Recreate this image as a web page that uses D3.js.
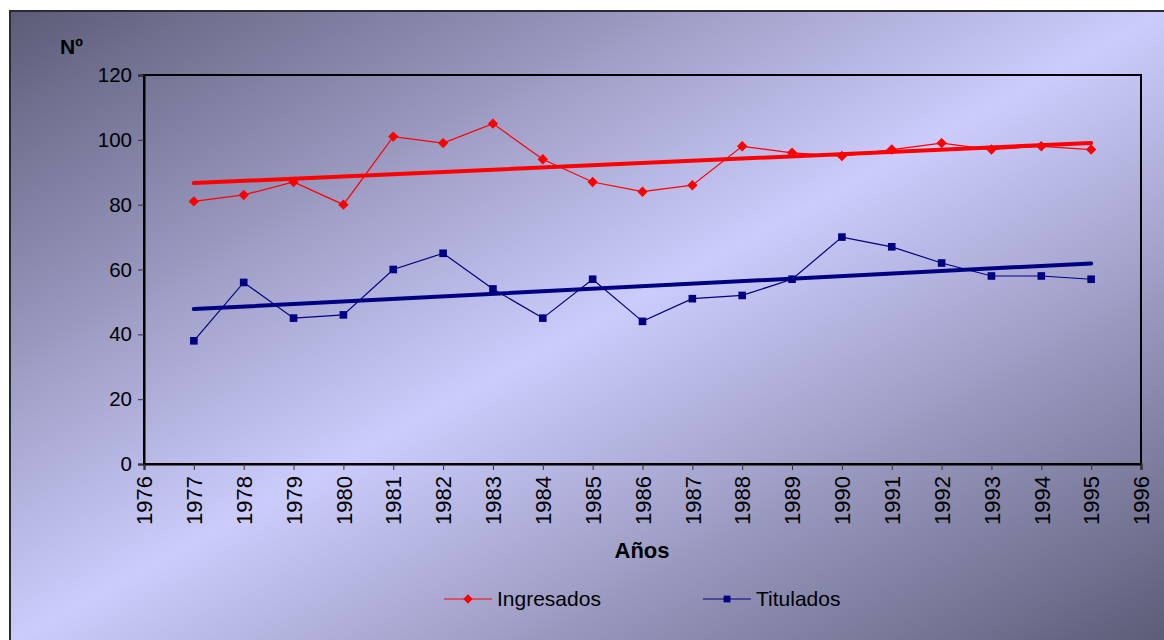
<!DOCTYPE html>
<html>
<head>
<meta charset="utf-8">
<script src="https://cdn.jsdelivr.net/npm/d3@7"></script>
<style>
  html, body { margin: 0; padding: 0; background: #ffffff; }
  svg { display: block; font-family: "Liberation Sans", Arial, sans-serif; }
</style>
</head>
<body>
<svg id="chart" width="1164" height="640"></svg>
<script>
// Student intake and graduates per year
const years = [1977, 1978, 1979, 1980, 1981, 1982, 1983, 1984, 1985, 1986,
               1987, 1988, 1989, 1990, 1991, 1992, 1993, 1994, 1995];
const ingresados = [81, 83, 87, 80, 101, 99, 105, 94, 87, 84,
                    86, 98, 96, 95, 97, 99, 97, 98, 97];
const titulados = [38, 56, 45, 46, 60, 65, 54, 45, 57, 44,
                   51, 52, 57, 70, 67, 62, 58, 58, 57];
const xTickYears = d3.range(1976, 1997);
const yTicks = [0, 20, 40, 60, 80, 100, 120];
const seriesNames = ["Ingresados", "Titulados"];

const W = 1164, H = 640;
const plot = { left: 144, right: 1141, top: 75, bottom: 464 };

const svg = d3.select("#chart");

// Background gradient of the chart frame
const defs = svg.append("defs");
const grad = defs.append("linearGradient")
  .attr("id", "bg")
  .attr("x1", 0).attr("y1", 0).attr("x2", 1).attr("y2", 1);
grad.append("stop").attr("offset", "0%").attr("stop-color", "#5c5c78");
grad.append("stop").attr("offset", "50%").attr("stop-color", "#ccccfc");
grad.append("stop").attr("offset", "100%").attr("stop-color", "#5c5c78");

svg.append("rect")
  .attr("x", 10).attr("y", 11)
  .attr("width", W - 10 + 2).attr("height", H - 11 + 2)
  .attr("fill", "url(#bg)")
  .attr("stroke", "#2b2b36").attr("stroke-width", 2);

const x = d3.scaleLinear().domain([1976, 1996]).range([plot.left, plot.right]);
const y = d3.scaleLinear().domain([0, 120]).range([plot.bottom, plot.top]);

// Plot area frame
svg.append("rect")
  .attr("x", plot.left).attr("y", plot.top)
  .attr("width", plot.right - plot.left).attr("height", plot.bottom - plot.top)
  .attr("fill", "none").attr("stroke", "#000").attr("stroke-width", 2);

// Y axis
const yAxis = d3.axisLeft(y).tickValues(yTicks).tickSize(6).tickPadding(6).tickFormat(d3.format("d"));
const gy = svg.append("g").attr("transform", `translate(${plot.left},0)`).call(yAxis);
gy.select(".domain").attr("stroke", "#000").attr("stroke-width", 2);
gy.selectAll(".tick line").attr("stroke", "#333");
gy.selectAll(".tick text").attr("font-size", 20.5).attr("fill", "#000")
  .attr("font-family", "Liberation Sans, Arial, sans-serif");

// X axis with vertical year labels
const xAxis = d3.axisBottom(x).tickValues(xTickYears).tickSize(6).tickFormat(d3.format("d"));
const gx = svg.append("g").attr("transform", `translate(0,${plot.bottom})`).call(xAxis);
gx.select(".domain").attr("stroke", "#000").attr("stroke-width", 2);
gx.selectAll(".tick line").attr("stroke", "#333");
gx.selectAll(".tick text")
  .attr("font-size", 22).attr("fill", "#000")
  .attr("font-family", "Liberation Sans, Arial, sans-serif")
  .attr("transform", "rotate(-90)")
  .attr("text-anchor", "end")
  .attr("x", -12).attr("y", 0).attr("dy", "0.35em");

// Axis titles
svg.append("text").attr("x", 60).attr("y", 54)
  .attr("font-size", 21).attr("font-weight", "bold").attr("fill", "#000")
  .text("Nº");
svg.append("text").attr("x", 642).attr("y", 558).attr("text-anchor", "middle")
  .attr("font-size", 22).attr("font-weight", "bold").attr("fill", "#000")
  .text("Años");

// Least-squares trend line for a series
function trend(vals) {
  const mx = d3.mean(years), my = d3.mean(vals);
  let sxy = 0, sxx = 0;
  years.forEach((yr, i) => { sxy += (yr - mx) * (vals[i] - my); sxx += (yr - mx) ** 2; });
  const b = sxy / sxx, a = my - b * mx;
  const first = years[0], last = years[years.length - 1];
  return [[first, a + b * first], [last, a + b * last]];
}

const line = d3.line().x(d => x(d[0])).y(d => y(d[1]));
const series = [
  { name: seriesNames[0], vals: ingresados, color: "#ff0000", marker: d3.symbolSquare, size: 54, rot: 45 },
  { name: seriesNames[1], vals: titulados, color: "#000080", marker: d3.symbolSquare, size: 58, rot: 0 }
];

series.forEach(s => {
  const pts = years.map((yr, i) => [yr, s.vals[i]]);
  svg.append("path").attr("d", line(pts))
    .attr("fill", "none").attr("stroke", s.color).attr("stroke-width", 1.2);
  svg.append("g").selectAll("path").data(pts).join("path")
    .attr("transform", d => `translate(${x(d[0])},${y(d[1])}) rotate(${s.rot})`)
    .attr("d", d3.symbol().type(s.marker).size(s.size))
    .attr("fill", s.color);
});

// Trend lines drawn above the series
series.forEach(s => {
  svg.append("path").attr("d", line(trend(s.vals)))
    .attr("fill", "none").attr("stroke", s.color).attr("stroke-width", 4)
    .attr("stroke-linecap", "round");
});

// Legend
const legendItems = [
  { s: series[0], x0: 444 },
  { s: series[1], x0: 703 }
];
const ly = 599;
legendItems.forEach(({ s, x0 }) => {
  const g = svg.append("g");
  g.append("line").attr("x1", x0).attr("x2", x0 + 48).attr("y1", ly).attr("y2", ly)
    .attr("stroke", s.color).attr("stroke-width", 1.2);
  g.append("path").attr("transform", `translate(${x0 + 24},${ly}) rotate(${s.rot})`)
    .attr("d", d3.symbol().type(s.marker).size(s.size * 0.8)).attr("fill", s.color);
  g.append("text").attr("x", x0 + 53).attr("y", ly).attr("dy", "0.35em")
    .attr("font-size", 21).attr("fill", "#000").text(s.name);
});
</script>
</body>
</html>
